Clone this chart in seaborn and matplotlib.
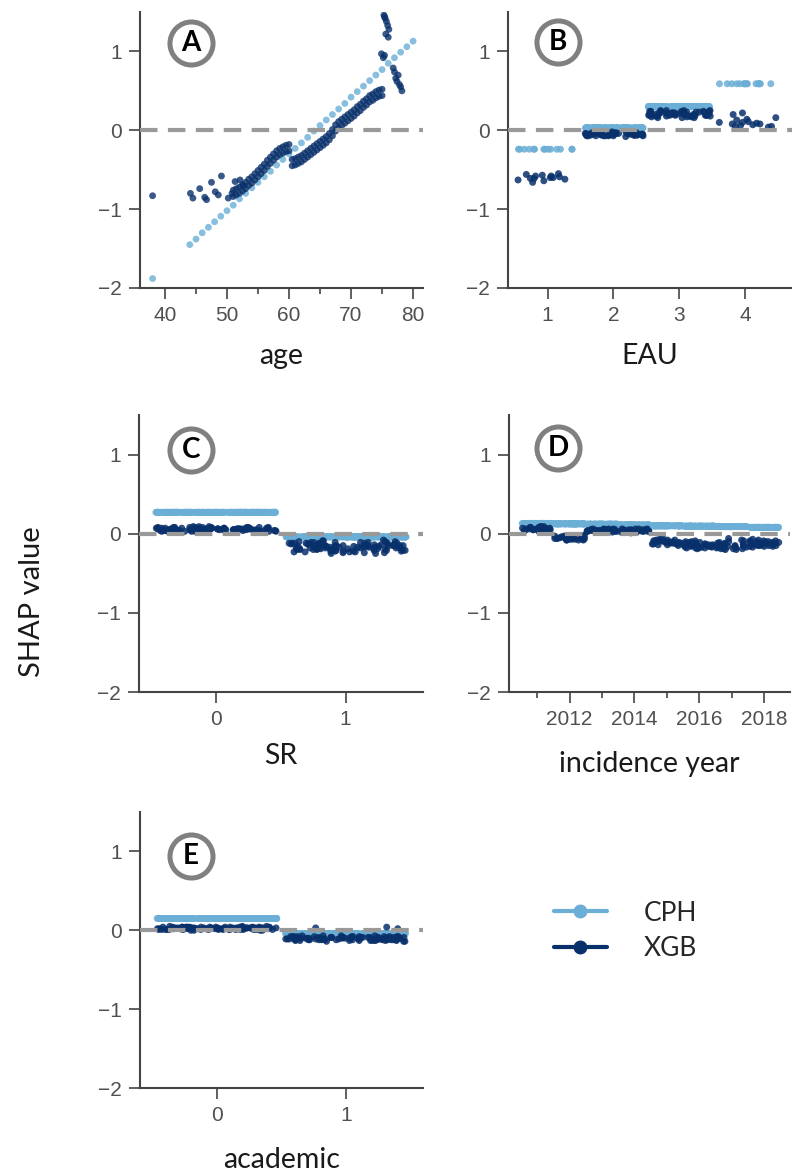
import numpy as np
import pandas as pd
import matplotlib.pyplot as plt
import seaborn as sns
from matplotlib.lines import Line2D
from matplotlib.ticker import MultipleLocator

# ---------------- datos ----------------
modelos = ["CPH", "XGB"]
colores = {"CPH": "#6baed6", "XGB": "#08306b"}

# A: edad (CPH lineal, un punto por edad)
cph_edad = [38, 44, 45, 46, 47, 48, 49, 50, 51, 52, 53, 54, 55, 56, 57, 58, 59, 60,
            61, 62, 63, 64, 65, 66, 67, 68, 69, 70, 71, 72, 73, 74, 75, 76, 77, 78, 79, 80]
cph_edad_shap = [-1.88, -1.45, -1.38, -1.30, -1.23, -1.16, -1.09, -1.02, -0.95, -0.87,
                 -0.80, -0.73, -0.66, -0.59, -0.52, -0.44, -0.37, -0.30, -0.23, -0.16,
                 -0.09, -0.01, 0.06, 0.13, 0.20, 0.27, 0.34, 0.42, 0.49, 0.56, 0.63,
                 0.70, 0.77, 0.85, 0.92, 0.99, 1.06, 1.13]

# A: edad, banda densa de XGB (borde inferior y superior cada medio año)
xgb_banda_edad = [51.0, 51.5, 52.0, 52.5, 53.0, 53.5, 54.0, 54.5, 55.0, 55.5, 56.0, 56.5,
                  57.0, 57.5, 58.0, 58.5, 59.0, 59.5, 60.0, 60.5, 61.0, 61.5, 62.0, 62.5,
                  63.0, 63.5, 64.0, 64.5, 65.0, 65.5, 66.0, 66.5, 67.0, 67.5, 68.0, 68.5,
                  69.0, 69.5, 70.0, 70.5, 71.0, 71.5, 72.0, 72.5, 73.0, 73.5, 74.0, 74.5,
                  75.0]
xgb_banda_baja = [-0.84, -0.82, -0.80, -0.77, -0.74, -0.70, -0.67, -0.63, -0.59, -0.55,
                  -0.51, -0.46, -0.42, -0.38, -0.34, -0.31, -0.29, -0.27, -0.26, -0.45,
                  -0.44, -0.42, -0.40, -0.37, -0.34, -0.31, -0.28, -0.25, -0.22, -0.19,
                  -0.16, -0.12, -0.07, -0.01, 0.03, 0.06, 0.09, 0.12, 0.15, 0.18,
                  0.22, 0.25, 0.29, 0.32, 0.36, 0.38, 0.41, 0.43, 0.44]
xgb_banda_alta = [-0.76, -0.74, -0.72, -0.69, -0.66, -0.62, -0.59, -0.55, -0.51, -0.47,
                  -0.43, -0.38, -0.34, -0.30, -0.26, -0.23, -0.21, -0.19, -0.18, -0.37,
                  -0.36, -0.34, -0.32, -0.29, -0.26, -0.23, -0.20, -0.17, -0.14, -0.11,
                  -0.08, -0.04, 0.01, 0.07, 0.11, 0.14, 0.17, 0.20, 0.23, 0.26,
                  0.30, 0.33, 0.37, 0.40, 0.44, 0.46, 0.49, 0.51, 0.52]

# A: edad, puntos sueltos de XGB
xgb_suelto_edad = [38.0, 44.1, 44.5, 45.6, 46.4, 46.7, 47.5, 48.1, 48.6, 49.1, 50.2, 50.8,
                   51.3, 52.1, 52.6,
                   75.3, 75.5, 75.7, 75.9, 76.1, 75.6, 76.0, 75.4,
                   74.9, 75.2, 75.4,
                   76.8, 77.0, 77.2, 77.4, 77.6, 77.8, 78.0, 78.2]
xgb_suelto_shap = [-0.83, -0.80, -0.86, -0.74, -0.85, -0.88, -0.66, -0.78, -0.82, -0.58,
                   -0.86, -0.80, -0.65, -0.63, -0.70,
                   1.46, 1.42, 1.38, 1.33, 1.28, 1.22, 1.18, 1.44,
                   0.97, 0.92, 0.95,
                   0.79, 0.74, 0.66, 0.62, 0.70, 0.58, 0.55, 0.50]

# B: EAU
eau_cat = [1, 2, 3, 4]
cph_eau = [-0.24, 0.03, 0.30, 0.59]
n_eau = [14, 120, 120, 16]
xgb_eau_1 = [-0.55, -0.60, -0.63, -0.58, -0.66, -0.57, -0.61, -0.59, -0.64, -0.56,
             -0.60, -0.62, -0.58, -0.61]
xgb_eau_2 = [-0.04, -0.06, -0.03, -0.07, -0.05, -0.04, -0.06, -0.02, -0.05, -0.07,
             -0.04, -0.03, -0.06, -0.05, -0.08, -0.04, -0.05, -0.06, -0.03, -0.05,
             -0.07, -0.04, -0.06, -0.05, -0.03, -0.06, -0.04, -0.07, -0.05, -0.04,
             -0.05, -0.03, -0.06, -0.04, -0.07, -0.05, -0.02, -0.06, -0.04, -0.05,
             -0.04, -0.06, -0.05, -0.03, -0.07, -0.05, -0.04, -0.06, -0.02, -0.05,
             -0.06, -0.04, -0.07, -0.05, -0.03, -0.06, -0.04, -0.05, -0.07, -0.04]
xgb_eau_3 = [0.20, 0.23, 0.18, 0.22, 0.25, 0.19, 0.21, 0.16, 0.24, 0.20, 0.22, 0.18,
             0.23, 0.19, 0.21, 0.25, 0.17, 0.22, 0.20, 0.24, 0.19, 0.21, 0.23, 0.18,
             0.22, 0.20, 0.16, 0.24, 0.21, 0.19, 0.21, 0.18, 0.23, 0.20, 0.25, 0.19,
             0.22, 0.17, 0.24, 0.20, 0.19, 0.22, 0.24, 0.18, 0.21, 0.20, 0.23, 0.17,
             0.22, 0.25, 0.19, 0.21, 0.16, 0.23, 0.20, 0.24, 0.18, 0.22, 0.21, 0.19]
xgb_eau_4 = [0.06, 0.10, 0.04, 0.13, 0.08, 0.16, 0.05, 0.11, 0.20, 0.07, 0.09, 0.14,
             0.05, 0.22, 0.10, 0.08]

# C: SR
sr_cat = [0, 1]
cph_sr = [0.27, -0.04]
n_sr = [200, 200]
xgb_sr_0 = [0.05, 0.07, 0.03, 0.06, 0.08, 0.04, 0.05, 0.09, 0.03, 0.06,
            0.07, 0.04, 0.05, 0.08, 0.02, 0.06, 0.05, 0.07, 0.04, 0.06,
            0.08, 0.03, 0.05, 0.07, 0.06, 0.04, 0.08, 0.05, 0.03, 0.07,
            0.06, 0.05, 0.09, 0.04, 0.06, 0.03, 0.07, 0.05, 0.08, 0.04,
            0.06, 0.05, 0.04, 0.07, 0.03, 0.06, 0.08, 0.05, 0.04, 0.06,
            0.07, 0.05, 0.03, 0.08, 0.06, 0.04, 0.05, 0.07, 0.06, 0.05,
            0.06, 0.04, 0.07, 0.05, 0.08, 0.03, 0.06, 0.05, 0.07, 0.04,
            0.05, 0.08, 0.06, 0.03, 0.07, 0.05, 0.04, 0.06, 0.09, 0.05,
            0.04, 0.07, 0.05, 0.06, 0.03, 0.08, 0.05, 0.06, 0.04, 0.07,
            0.06, 0.05, 0.08, 0.04, 0.05, 0.07, 0.03, 0.06, 0.05, 0.04]
xgb_sr_1 = [-0.12, -0.18, -0.15, -0.22, -0.10, -0.20, -0.16, -0.13, -0.24, -0.17,
            -0.09, -0.19, -0.14, -0.21, -0.16, -0.11, -0.23, -0.18, -0.15, -0.20,
            -0.12, -0.17, -0.25, -0.14, -0.19, -0.13, -0.21, -0.16, -0.08, -0.18,
            -0.22, -0.15, -0.11, -0.20, -0.17, -0.14, -0.23, -0.12, -0.19, -0.16,
            -0.21, -0.13, -0.17, -0.10, -0.19, -0.15, -0.22, -0.12, -0.18, -0.14,
            -0.20, -0.16, -0.11, -0.24, -0.13, -0.18, -0.15, -0.21, -0.17, -0.12,
            -0.15, -0.19, -0.12, -0.22, -0.17, -0.10, -0.20, -0.14, -0.18, -0.24,
            -0.13, -0.16, -0.21, -0.11, -0.19, -0.15, -0.23, -0.17, -0.12, -0.20,
            -0.14, -0.18, -0.09, -0.22, -0.16, -0.13, -0.20, -0.17, -0.25, -0.15,
            -0.11, -0.19, -0.14, -0.21, -0.16, -0.12, -0.18, -0.23, -0.15, -0.13]

# D: año de incidencia
anio_cat = [2011, 2012, 2013, 2014, 2015, 2016, 2017, 2018]
cph_anio = [0.13, 0.125, 0.12, 0.11, 0.10, 0.095, 0.09, 0.08]
n_anio = [60, 60, 60, 60, 60, 60, 60, 60]
xgb_2011 = [0.05, 0.08, 0.04, 0.07, 0.09, 0.05, 0.06, 0.03, 0.08, 0.06, 0.04, 0.07,
            0.05, 0.09, 0.06, 0.04, 0.07, 0.05, 0.08, 0.04, 0.06, 0.07,
            0.06, 0.04, 0.08, 0.05, 0.07, 0.09, 0.05, 0.06]
xgb_2012 = [-0.04, -0.06, -0.03, -0.08, -0.05, -0.07, -0.04, -0.06, -0.02, -0.05,
            -0.07, -0.03, -0.06, -0.05, -0.08, -0.04, -0.05, -0.07, -0.03, -0.06,
            -0.04, -0.08, -0.06, -0.04, -0.07, -0.05, -0.03, -0.08, -0.05, -0.06]
xgb_2013 = [0.04, 0.02, 0.05, 0.03, 0.06, 0.04, 0.02, 0.05, 0.03, 0.04, 0.06, 0.02,
            0.05, 0.03, 0.04, 0.05, 0.03, 0.05, 0.04, 0.02, 0.06, 0.04,
            0.05, 0.03, 0.04, 0.06, 0.02, 0.04, 0.05, 0.03]
xgb_2014 = [0.03, 0.05, 0.02, 0.04, 0.06, 0.03, 0.01, 0.04, 0.05, 0.02, 0.04, 0.03,
            0.06, 0.02, 0.05, 0.03, 0.04, 0.02, 0.05, 0.03, 0.04, 0.06,
            0.04, 0.03, 0.05, 0.02, 0.06, 0.04, 0.03, 0.05]
xgb_2015 = [-0.08, -0.11, -0.13, -0.07, -0.10, -0.14, -0.09, -0.12, -0.06, -0.11,
            -0.13, -0.08, -0.10, -0.15, -0.09, -0.12, -0.10, -0.13, -0.08, -0.12,
            -0.09, -0.11, -0.11, -0.09, -0.13, -0.10, -0.12, -0.08, -0.14, -0.11]
xgb_2016 = [-0.12, -0.16, -0.10, -0.18, -0.14, -0.09, -0.17, -0.13, -0.19, -0.15,
            -0.11, -0.16, -0.13, -0.18, -0.14, -0.12, -0.15, -0.12, -0.17, -0.10,
            -0.14, -0.18, -0.13, -0.16, -0.11, -0.18, -0.15, -0.12, -0.17, -0.14]
xgb_2017 = [-0.14, -0.18, -0.08, -0.16, -0.19, -0.12, -0.17, -0.06, -0.15, -0.20,
            -0.13, -0.18, -0.10, -0.16, -0.14, -0.19, -0.16, -0.12, -0.19, -0.14,
            -0.17, -0.09, -0.15, -0.18, -0.13, -0.20, -0.11, -0.16, -0.19, -0.14]
xgb_2018 = [-0.10, -0.14, -0.08, -0.16, -0.12, -0.09, -0.15, -0.11, -0.17, -0.13,
            -0.07, -0.14, -0.12, -0.10, -0.15, -0.11, -0.12, -0.15, -0.09, -0.13,
            -0.16, -0.10, -0.13, -0.10, -0.15, -0.12, -0.16, -0.09, -0.14, -0.11]

# E: academic
acad_cat = [0, 1]
cph_acad = [0.15, -0.04]
n_acad = [200, 200]
xgb_acad_0 = [0.02, 0.03, 0.01, 0.04, 0.02, 0.03, 0.00, 0.02, 0.04, 0.01,
              0.03, 0.02, 0.05, 0.01, 0.03, 0.02, 0.04, 0.02, 0.01, 0.03,
              0.02, 0.04, 0.01, 0.03, 0.02, 0.03, 0.01, 0.04, 0.02, 0.03,
              0.00, 0.02, 0.04, 0.03, 0.01, 0.02, 0.03, 0.04, 0.02, 0.01,
              0.03, 0.02, 0.04, 0.01, 0.02, 0.03, 0.05, 0.02, 0.01, 0.03,
              0.02, 0.04, 0.03, 0.01, 0.02, 0.03, 0.02, 0.04, 0.01, 0.03,
              0.03, 0.01, 0.02, 0.04, 0.03, 0.02, 0.00, 0.03, 0.02, 0.04,
              0.01, 0.03, 0.02, 0.05, 0.02, 0.01, 0.03, 0.04, 0.02, 0.03,
              0.02, 0.01, 0.04, 0.03, 0.02, 0.00, 0.03, 0.02, 0.04, 0.01,
              0.03, 0.02, 0.04, 0.02, 0.03, 0.01, 0.02, 0.03, 0.04, 0.02]
xgb_acad_1 = [-0.08, -0.10, -0.12, -0.09, -0.11, -0.07, -0.13, -0.10, 0.04, -0.09,
              -0.12, -0.08, -0.11, -0.10, 0.02, -0.14, -0.09, -0.11, -0.08, -0.12,
              -0.10, -0.13, -0.09, -0.11, -0.07, -0.10, -0.12, 0.03, -0.09, -0.11,
              -0.13, -0.08, -0.10, -0.12, -0.09, -0.11, -0.14, -0.10, -0.08, -0.12,
              -0.09, -0.11, -0.10, -0.13, -0.08, -0.11, -0.09, -0.12, -0.10, -0.07,
              -0.11, -0.09, -0.13, -0.10, -0.08, -0.12, -0.11, -0.09, -0.10, -0.12,
              -0.10, -0.08, -0.12, -0.11, -0.09, -0.13, -0.10, -0.07, -0.11, -0.12,
              -0.09, -0.10, -0.14, -0.08, -0.11, -0.10, -0.12, -0.09, -0.13, -0.11,
              -0.08, -0.10, -0.12, -0.09, -0.11, -0.10, -0.13, -0.08, -0.12, -0.10,
              -0.09, -0.11, -0.10, -0.12, -0.08, -0.11, -0.09, -0.13, -0.10, -0.11]


def tabla_categorica(categorias, cph, n_cph, listas_xgb):
    """CPH (valor constante por categoria) primero, XGB se dibuja encima."""
    filas = []
    for cat, valor_cph, n, valores in zip(categorias, cph, n_cph, listas_xgb):
        for _ in range(n):
            filas.append((cat, valor_cph, "CPH"))
        for v in valores:
            filas.append((cat, v, "XGB"))
    return pd.DataFrame(filas, columns=["x", "shap", "modelo"])


def tabla_edad():
    filas = []
    for e, v in zip(cph_edad, cph_edad_shap):
        filas.append((e, v, "CPH"))
    for e, v in zip(xgb_suelto_edad, xgb_suelto_shap):
        filas.append((e, v, "XGB"))
    for serie in (xgb_banda_baja, xgb_banda_alta):
        for e, v in zip(xgb_banda_edad, serie):
            filas.append((e, v, "XGB"))
    return pd.DataFrame(filas, columns=["x", "shap", "modelo"])


def estilo_ejes(ax, xlim, xlabel, labelpad, letra, pos_letra):
    ax.set_xlim(*xlim)
    ax.set_ylim(-2, 1.5)
    ax.set_yticks([-2, -1, 0, 1])
    ax.axhline(0, color="#999999", lw=3, dashes=(4.2, 2.5), zorder=4)
    sns.despine(ax=ax)
    for lado in ["left", "bottom"]:
        ax.spines[lado].set_linewidth(1.5)
        ax.spines[lado].set_color("#444444")
    ax.tick_params(which="major", length=8, width=1.2, color="#444444",
                   labelsize=15, labelcolor="#505050", pad=5)
    ax.tick_params(which="minor", length=4.5, width=1.2, color="#444444")
    ax.set_xlabel(xlabel, fontfamily="Lato", fontsize=20.5, labelpad=labelpad,
                  color="#1a1a1a")
    ax.set_ylabel("")
    ax.plot([pos_letra[0]], [pos_letra[1]], "o", ms=31, mfc="white", mec="#808080",
            mew=3.6, transform=ax.transAxes, clip_on=False, zorder=6)
    ax.text(pos_letra[0], pos_letra[1], letra, transform=ax.transAxes, ha="center",
            va="center", fontfamily="Lato", fontweight="bold", fontsize=20,
            color="black", zorder=7)


def franjas(ax, df):
    sns.stripplot(data=df, x="x", y="shap", hue="modelo", palette=colores,
                  hue_order=modelos, native_scale=True, orient="x", jitter=0.47,
                  size=5, alpha=0.85, linewidth=0, legend=False, ax=ax, zorder=3)


sns.set_style("ticks")
plt.rcParams["font.family"] = ["Liberation Sans", "DejaVu Sans"]
np.random.seed(3)

W, H = 792, 1173
fig = plt.figure(figsize=(W / 100, H / 100), dpi=100)


def caja(x0, x1, y0, y1):
    return [x0 / W, 1 - y1 / H, (x1 - x0) / W, (y1 - y0) / H]


ax_a = fig.add_axes(caja(140, 423, 12, 288))
ax_b = fig.add_axes(caja(508, 792, 12, 288))
ax_c = fig.add_axes(caja(139, 423, 415, 692))
ax_d = fig.add_axes(caja(509, 790, 415, 692))
ax_e = fig.add_axes(caja(140, 423, 812, 1088))

# A
sns.scatterplot(data=tabla_edad(), x="x", y="shap", hue="modelo", palette=colores,
                hue_order=modelos, s=24, alpha=0.8, linewidth=0, legend=False,
                ax=ax_a, zorder=3)
estilo_ejes(ax_a, (35.97, 81.6), "age", 13, "A", (0.179, 0.889))
ax_a.xaxis.set_major_locator(MultipleLocator(10))
ax_a.xaxis.set_minor_locator(MultipleLocator(5))

# B
franjas(ax_b, tabla_categorica(eau_cat, cph_eau, n_eau,
                               [xgb_eau_1, xgb_eau_2, xgb_eau_3, xgb_eau_4]))
estilo_ejes(ax_b, (0.40, 4.71), "EAU", 13, "B", (0.177, 0.892))
ax_b.set_xticks(eau_cat)

# C
franjas(ax_c, tabla_categorica(sr_cat, cph_sr, n_sr, [xgb_sr_0, xgb_sr_1]))
estilo_ejes(ax_c, (-0.60, 1.60), "SR", 10, "C", (0.182, 0.874))
ax_c.set_xticks(sr_cat)

# D
franjas(ax_d, tabla_categorica(anio_cat, cph_anio, n_anio,
                               [xgb_2011, xgb_2012, xgb_2013, xgb_2014,
                                xgb_2015, xgb_2016, xgb_2017, xgb_2018]))
estilo_ejes(ax_d, (2010.13, 2018.8), "incidence year", 16, "D", (0.175, 0.880))
ax_d.xaxis.set_major_locator(MultipleLocator(2))
ax_d.xaxis.set_minor_locator(MultipleLocator(1))

# E
franjas(ax_e, tabla_categorica(acad_cat, cph_acad, n_acad, [xgb_acad_0, xgb_acad_1]))
estilo_ejes(ax_e, (-0.60, 1.60), "academic", 16, "E", (0.179, 0.842))
ax_e.set_xticks(acad_cat)

fig.text(32 / W, 1 - 602 / H, "SHAP value", rotation=90, ha="center", va="center",
         fontfamily="Lato", fontsize=21, color="#1a1a1a")

manijas = [Line2D([], [], color=colores[m], lw=3, marker="o", ms=9) for m in modelos]
fig.legend(manijas, modelos, loc="center left", bbox_to_anchor=(554 / W, 1 - 931 / H),
           frameon=False, prop={"family": "Lato", "size": 19}, handlelength=2.0,
           handletextpad=1.4, labelspacing=0.4, borderpad=0, borderaxespad=0)

fig.savefig("out.png", dpi=100)
